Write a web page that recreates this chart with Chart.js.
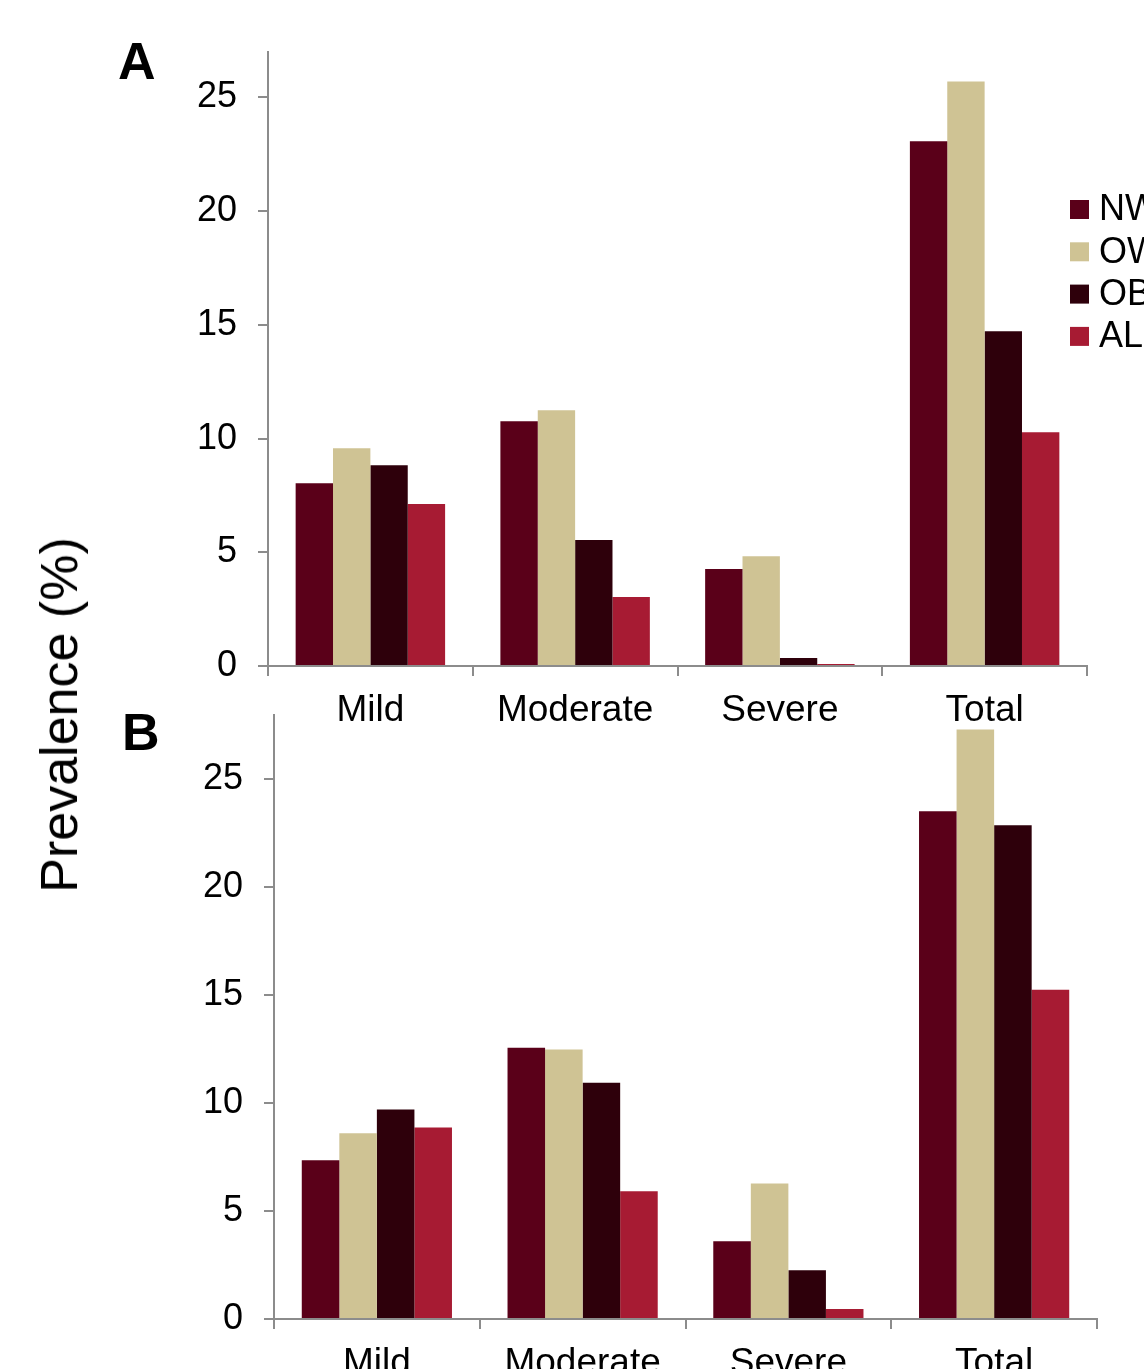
<!DOCTYPE html>
<html>
<head>
<meta charset="utf-8">
<script src="https://cdn.jsdelivr.net/npm/chart.js@4"></script>
<style>
  html, body { margin: 0; padding: 0; background: #fff; overflow: hidden; }
  #wrap { position: relative; width: 1144px; height: 1369px; overflow: hidden; font-family: 'Liberation Sans', Arial, sans-serif; color: #000; }
  canvas { position: absolute; left: 0; }
  #chartA { top: 0; }
  #chartB { top: 672px; }
  .panel { position: absolute; font-weight: bold; font-size: 52px; line-height: 1; }
  #ylab { position: absolute; font-size: 52px; line-height: 1; left: 59px; top: 715px;
          transform: translate(-50%, -50%) rotate(-90deg); white-space: nowrap; }
</style>
</head>
<body>
<div id="wrap">
  <canvas id="chartA" width="1144" height="760"></canvas>
  <canvas id="chartB" width="1144" height="697"></canvas>
  <div class="panel" style="left:118px; top:35px;">A</div>
  <div class="panel" style="left:122px; top:706px;">B</div>
  <div id="ylab">Prevalence (%)</div>
</div>
<script>
// Severity categories and weight groups
const categories = ['Mild', 'Moderate', 'Severe', 'Total'];
const groups = ['NW', 'OW', 'OB', 'ALL'];
const groupColors = ['#5a0019', '#cfc394', '#2e000b', '#a71b33'];

// Panel A prevalence (%)
const panelA_NW  = [8.04, 10.76, 4.26, 23.07];
const panelA_OW  = [9.58, 11.25, 4.83, 25.70];
const panelA_OB  = [8.83, 5.54, 0.35, 14.72];
const panelA_ALL = [7.12, 3.03, 0.09, 10.28];

// Panel B prevalence (%)
const panelB_NW  = [7.35, 12.57, 3.60, 23.52];
const panelB_OW  = [8.60, 12.48, 6.28, 27.31];
const panelB_OB  = [9.70, 10.95, 2.26, 22.87];
const panelB_ALL = [8.87, 5.92, 0.46, 15.25];

// Value axis ranges
const yMaxA = 27;
const yMaxB = 28;
const yStep = 5;

const FONT = "'Liberation Sans', Arial, sans-serif";
Chart.defaults.font.family = FONT;
Chart.defaults.color = '#000';

const AXIS = '#8c8c8c';

// Legend drawn at the right edge of the upper panel
const sideLegend = {
  id: 'sideLegend',
  afterDraw(chart, args, opts) {
    if (!opts.show) return;
    const ctx = chart.ctx;
    ctx.save();
    ctx.font = opts.fontSize + 'px ' + FONT;
    ctx.textBaseline = 'middle';
    chart.data.datasets.forEach((ds, i) => {
      const cy = opts.top + i * opts.gap;
      ctx.fillStyle = ds.backgroundColor;
      ctx.fillRect(opts.x, cy - opts.box / 2, opts.box, opts.box);
      ctx.fillStyle = '#000';
      ctx.fillText(ds.label, opts.x + opts.box + 10, cy + 1);
    });
    ctx.restore();
  }
};

function makeChart(id, series, yMax, cfg) {
  const datasets = series.map((vals, i) => ({
    label: groups[i],
    data: vals,
    backgroundColor: groupColors[i],
    borderWidth: 0,
    barPercentage: 1.0,
    categoryPercentage: 0.73
  }));
  return new Chart(document.getElementById(id), {
    type: 'bar',
    data: { labels: categories, datasets },
    plugins: [sideLegend],
    options: {
      responsive: false,
      devicePixelRatio: 1,
      animation: false,
      layout: { padding: cfg.padding },
      plugins: {
        legend: { display: false },
        tooltip: { enabled: false },
        sideLegend: cfg.legend
      },
      scales: {
        x: {
          offset: true,
          grid: { offset: true, drawOnChartArea: false, drawTicks: true, tickLength: 10, color: AXIS, lineWidth: 2 },
          border: { display: true, color: AXIS, width: 2 },
          ticks: { font: { size: 37 }, padding: 13, maxRotation: 0, autoSkip: false },
          afterFit(scale) { scale.height = cfg.xHeight; }
        },
        y: {
          min: 0,
          max: yMax,
          grid: { drawOnChartArea: false, drawTicks: true, tickLength: 10, color: AXIS, lineWidth: 2 },
          border: { display: true, color: AXIS, width: 2 },
          ticks: { stepSize: yStep, includeBounds: false, font: { size: 36 }, padding: 21 },
          afterFit(scale) { scale.width = cfg.yWidth; }
        }
      }
    }
  });
}

makeChart('chartA', [panelA_NW, panelA_OW, panelA_OB, panelA_ALL], yMaxA, {
  padding: { left: 0, right: 57, top: 52, bottom: 34 },
  yWidth: 268,
  xHeight: 60,
  legend: { show: true, x: 1070, top: 209.5, gap: 42.3, box: 19, fontSize: 36 }
});

makeChart('chartB', [panelB_NW, panelB_OW, panelB_OB, panelB_ALL], yMaxB, {
  padding: { left: 0, right: 47, top: 28, bottom: 0 },
  yWidth: 274,
  xHeight: 50,
  legend: { show: false }
});
</script>
</body>
</html>
